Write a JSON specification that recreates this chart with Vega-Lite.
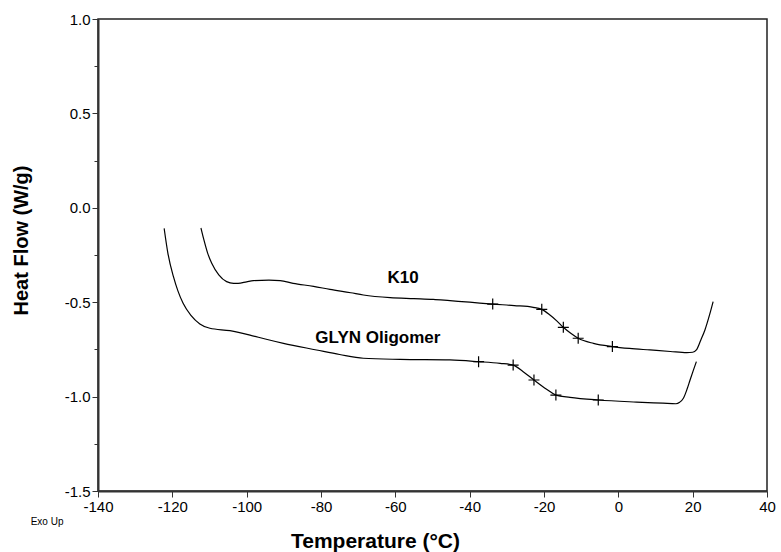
{
  "$schema": "https://vega.github.io/schema/vega-lite/v6.json",
  "width": 669,
  "height": 472,
  "autosize": {"type": "none"},
  "padding": {"left": 98, "top": 19, "right": 14, "bottom": 61},
  "background": "white",
  "config": {
    "view": {"stroke": "#222", "strokeWidth": 1.5},
    "font": "Liberation Sans"
  },
  "datasets": {
    "curves": [
      {"series": "K10", "T": -112.3, "HF": -0.107},
      {"series": "K10", "T": -111.5, "HF": -0.17},
      {"series": "K10", "T": -110.5, "HF": -0.24},
      {"series": "K10", "T": -109.4, "HF": -0.294},
      {"series": "K10", "T": -107.5, "HF": -0.355},
      {"series": "K10", "T": -105.4, "HF": -0.391},
      {"series": "K10", "T": -103.5, "HF": -0.4},
      {"series": "K10", "T": -102.3, "HF": -0.4},
      {"series": "K10", "T": -100, "HF": -0.392},
      {"series": "K10", "T": -98.2, "HF": -0.386},
      {"series": "K10", "T": -94, "HF": -0.383},
      {"series": "K10", "T": -91, "HF": -0.386},
      {"series": "K10", "T": -87.5, "HF": -0.4},
      {"series": "K10", "T": -82, "HF": -0.416},
      {"series": "K10", "T": -77.6, "HF": -0.432},
      {"series": "K10", "T": -72, "HF": -0.45},
      {"series": "K10", "T": -68.6, "HF": -0.462},
      {"series": "K10", "T": -61.4, "HF": -0.476},
      {"series": "K10", "T": -55, "HF": -0.481},
      {"series": "K10", "T": -49.8, "HF": -0.485},
      {"series": "K10", "T": -45.3, "HF": -0.492},
      {"series": "K10", "T": -40, "HF": -0.5},
      {"series": "K10", "T": -33.8, "HF": -0.51},
      {"series": "K10", "T": -28, "HF": -0.518},
      {"series": "K10", "T": -22.9, "HF": -0.527},
      {"series": "K10", "T": -20.6, "HF": -0.538},
      {"series": "K10", "T": -18.4, "HF": -0.568},
      {"series": "K10", "T": -16.5, "HF": -0.6},
      {"series": "K10", "T": -14.8, "HF": -0.633},
      {"series": "K10", "T": -12.8, "HF": -0.665},
      {"series": "K10", "T": -10.8, "HF": -0.691},
      {"series": "K10", "T": -6.7, "HF": -0.718},
      {"series": "K10", "T": -1.6, "HF": -0.735},
      {"series": "K10", "T": 3, "HF": -0.745},
      {"series": "K10", "T": 8.5, "HF": -0.753},
      {"series": "K10", "T": 14, "HF": -0.761},
      {"series": "K10", "T": 18.4, "HF": -0.767},
      {"series": "K10", "T": 20, "HF": -0.765},
      {"series": "K10", "T": 21, "HF": -0.753},
      {"series": "K10", "T": 22.2, "HF": -0.7},
      {"series": "K10", "T": 23.3, "HF": -0.647},
      {"series": "K10", "T": 24.5, "HF": -0.57},
      {"series": "K10", "T": 25.5, "HF": -0.497},
      {"series": "GLYN", "T": -122.2, "HF": -0.109},
      {"series": "GLYN", "T": -121.2, "HF": -0.24},
      {"series": "GLYN", "T": -119.7, "HF": -0.365},
      {"series": "GLYN", "T": -118.5, "HF": -0.44},
      {"series": "GLYN", "T": -117.1, "HF": -0.506},
      {"series": "GLYN", "T": -115, "HF": -0.57},
      {"series": "GLYN", "T": -112.6, "HF": -0.615},
      {"series": "GLYN", "T": -109.9, "HF": -0.638},
      {"series": "GLYN", "T": -104.5, "HF": -0.651},
      {"series": "GLYN", "T": -99.1, "HF": -0.674},
      {"series": "GLYN", "T": -95, "HF": -0.695},
      {"series": "GLYN", "T": -90.1, "HF": -0.718},
      {"series": "GLYN", "T": -81.2, "HF": -0.753},
      {"series": "GLYN", "T": -75, "HF": -0.777},
      {"series": "GLYN", "T": -68.6, "HF": -0.797},
      {"series": "GLYN", "T": -58.7, "HF": -0.803},
      {"series": "GLYN", "T": -45.3, "HF": -0.806},
      {"series": "GLYN", "T": -37.6, "HF": -0.815},
      {"series": "GLYN", "T": -31.8, "HF": -0.824},
      {"series": "GLYN", "T": -28.3, "HF": -0.833},
      {"series": "GLYN", "T": -25.6, "HF": -0.868},
      {"series": "GLYN", "T": -22.7, "HF": -0.912},
      {"series": "GLYN", "T": -19.3, "HF": -0.961},
      {"series": "GLYN", "T": -16.8, "HF": -0.992},
      {"series": "GLYN", "T": -13, "HF": -1.004},
      {"series": "GLYN", "T": -5.4, "HF": -1.018},
      {"series": "GLYN", "T": 4.9, "HF": -1.029},
      {"series": "GLYN", "T": 12, "HF": -1.035},
      {"series": "GLYN", "T": 15.5, "HF": -1.038},
      {"series": "GLYN", "T": 16.5, "HF": -1.03},
      {"series": "GLYN", "T": 17.5, "HF": -1.009},
      {"series": "GLYN", "T": 18.5, "HF": -0.96},
      {"series": "GLYN", "T": 19.3, "HF": -0.912},
      {"series": "GLYN", "T": 20.2, "HF": -0.86},
      {"series": "GLYN", "T": 21, "HF": -0.815}
    ],
    "crosses": [
      {"series": "K10", "T": -33.8, "HF": -0.51},
      {"series": "K10", "T": -20.6, "HF": -0.538},
      {"series": "K10", "T": -14.8, "HF": -0.633},
      {"series": "K10", "T": -10.8, "HF": -0.691},
      {"series": "K10", "T": -1.6, "HF": -0.735},
      {"series": "GLYN", "T": -37.6, "HF": -0.815},
      {"series": "GLYN", "T": -28.3, "HF": -0.833},
      {"series": "GLYN", "T": -22.7, "HF": -0.912},
      {"series": "GLYN", "T": -16.8, "HF": -0.992},
      {"series": "GLYN", "T": -5.4, "HF": -1.018}
    ],
    "labels": [
      {"T": -57.9, "HF": -0.372, "text": "K10"},
      {"T": -64.7, "HF": -0.687, "text": "GLYN Oligomer"}
    ],
    "note": [
      {"T": -153.7, "HF": -1.664, "text": "Exo Up"}
    ]
  },
  "layer": [
    {
      "data": {"name": "curves"},
      "mark": {"type": "line", "color": "black", "strokeWidth": 1.2, "interpolate": "monotone", "clip": true},
      "encoding": {
        "x": {
          "field": "T", "type": "quantitative",
          "scale": {"domain": [-140, 40], "nice": false, "zero": false},
          "axis": {
            "values": [-140, -130, -120, -110, -100, -90, -80, -70, -60, -50, -40, -30, -20, -10, 0, 10, 20, 30, 40],
            "labelExpr": "datum.value % 20 === 0 ? '' + datum.value : ''",
            "tickSize": {"condition": {"test": "datum.value % 20 === 0", "value": 6}, "value": 4},
            "grid": false,
            "title": "Temperature (°C)",
            "titleFontSize": 21,
            "titleFontWeight": "bold",
            "titleFont": "Liberation Sans",
            "titleColor": "black",
            "titleX": 277,
            "titleY": 50,
            "titleBaseline": "middle",
            "titleAlign": "center",
            "labelFontSize": 15,
            "labelFont": "Liberation Sans",
            "labelColor": "black",
            "labelPadding": 2,
            "labelFlush": false,
            "labelOverlap": false,
            "tickColor": "#333",
            "domainColor": "#333",
            "domainWidth": 2
          }
        },
        "y": {
          "field": "HF", "type": "quantitative",
          "scale": {"domain": [-1.5, 1.0], "nice": false, "zero": false},
          "axis": {
            "values": [-1.5, -1.25, -1.0, -0.75, -0.5, -0.25, 0, 0.25, 0.5, 0.75, 1.0],
            "labelExpr": "abs(datum.value * 2 - round(datum.value * 2)) < 0.000001 ? replace(format(datum.value, '.1f'), '\u2212', '-') : ''",
            "tickSize": {"condition": {"test": "abs(datum.value * 2 - round(datum.value * 2)) < 0.000001", "value": 6}, "value": 4},
            "grid": false,
            "title": "Heat Flow (W/g)",
            "titleFontSize": 20,
            "titleFontWeight": "bold",
            "titleFont": "Liberation Sans",
            "titleColor": "black",
            "titleX": -77,
            "titleY": 221,
            "titleAngle": -90,
            "titleBaseline": "middle",
            "titleAlign": "center",
            "labelFontSize": 15,
            "labelFont": "Liberation Sans",
            "labelColor": "black",
            "labelPadding": 2,
            "labelOverlap": false,
            "tickColor": "#333",
            "domainColor": "#333",
            "domainWidth": 2
          }
        },
        "detail": {"field": "series"}
      }
    },
    {
      "data": {"name": "crosses"},
      "mark": {"type": "point", "shape": "M-1,0L1,0M0,-1L0,1", "size": 121, "stroke": "black", "strokeWidth": 1.2, "filled": false, "opacity": 1},
      "encoding": {
        "x": {"field": "T", "type": "quantitative", "scale": {"domain": [-140, 40], "nice": false, "zero": false}},
        "y": {"field": "HF", "type": "quantitative", "scale": {"domain": [-1.5, 1.0], "nice": false, "zero": false}}
      }
    },
    {
      "data": {"name": "labels"},
      "mark": {"type": "text", "font": "Liberation Sans", "fontWeight": "bold", "fontSize": 17, "color": "black", "align": "center", "baseline": "middle"},
      "encoding": {
        "x": {"field": "T", "type": "quantitative", "scale": {"domain": [-140, 40], "nice": false, "zero": false}},
        "y": {"field": "HF", "type": "quantitative", "scale": {"domain": [-1.5, 1.0], "nice": false, "zero": false}},
        "text": {"field": "text"}
      }
    },
    {
      "data": {"name": "note"},
      "mark": {"type": "text", "font": "Liberation Sans", "fontSize": 10, "color": "black", "align": "center", "baseline": "middle", "clip": false},
      "encoding": {
        "x": {"field": "T", "type": "quantitative", "scale": {"domain": [-140, 40], "nice": false, "zero": false}},
        "y": {"field": "HF", "type": "quantitative", "scale": {"domain": [-1.5, 1.0], "nice": false, "zero": false}},
        "text": {"field": "text"}
      }
    }
  ]
}
